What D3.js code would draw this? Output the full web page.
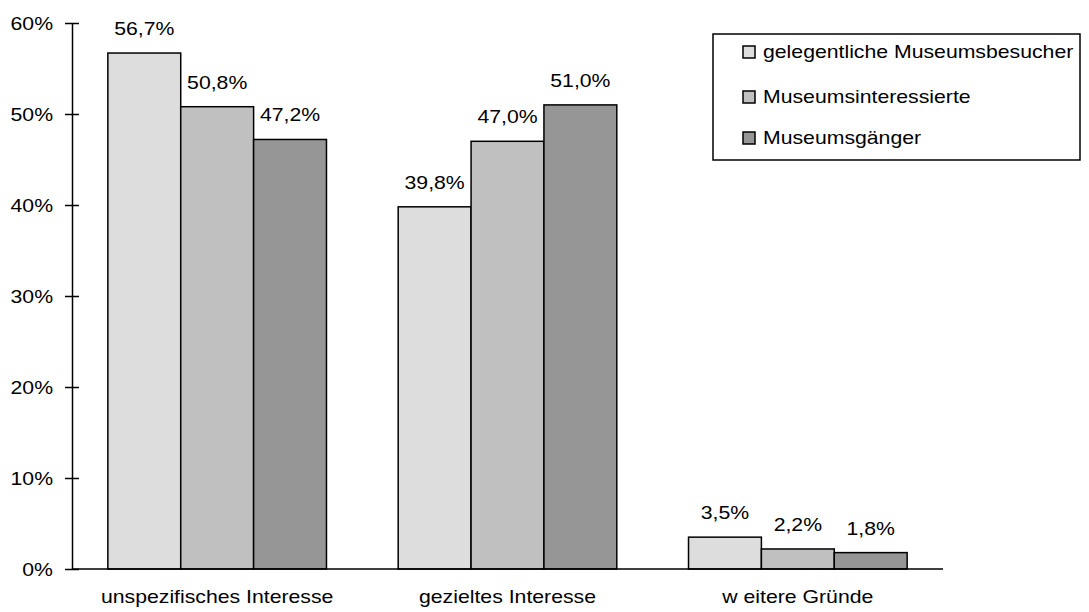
<!DOCTYPE html>
<html>
<head>
<meta charset="utf-8">
<script src="https://cdn.jsdelivr.net/npm/d3@7"></script>
<style>
  body { margin: 0; background: #fff; }
  svg { display: block; font-family: "Liberation Sans", Arial, sans-serif; }
</style>
</head>
<body>
<svg id="chart" width="1089" height="612"></svg>
<script>
const categories = ["unspezifisches Interesse", "gezieltes Interesse", "w eitere Gründe"];
const seriesNames = ["gelegentliche Museumsbesucher", "Museumsinteressierte", "Museumsgänger"];
const gelegentliche = [56.7, 39.8, 3.5];
const interessierte = [50.8, 47.0, 2.2];
const gaenger = [47.2, 51.0, 1.8];
const yTicks = [0, 10, 20, 30, 40, 50, 60];
const colors = ["#dddddd", "#c0c0c0", "#969696"];

const series = [gelegentliche, interessierte, gaenger];

const svg = d3.select("#chart");
const plot = { left: 72, right: 943, top: 23, bottom: 569 };
const fontSize = 18;
const stretch = 1.18; // wide lettering

const x = d3.scaleBand().domain(categories).range([plot.left, plot.right]).padding(0);
const xInner = d3.scaleBand().domain(d3.range(series.length))
  .range([x.bandwidth() * 0.1235, x.bandwidth() * 0.8765]).padding(0);
const y = d3.scaleLinear().domain([0, 60]).range([plot.bottom, plot.top]);

const fmt = v => d3.format(".1f")(v).replace(".", ",") + "%";

// places a text at (px, py) with the widened lettering
function wideText(sel, px, py) {
  return sel.attr("x", 0).attr("y", 0)
    .attr("transform", (d, i) => `translate(${px(d, i)},${py(d, i)}) scale(${stretch},1)`)
    .attr("font-size", fontSize)
    .attr("fill", "#000");
}

// bars
const groups = svg.append("g").selectAll("g")
  .data(categories)
  .join("g")
  .attr("transform", d => `translate(${x(d)},0)`);

groups.selectAll("rect")
  .data((c, ci) => series.map((s, si) => ({ si, v: s[ci] })))
  .join("rect")
  .attr("x", d => xInner(d.si))
  .attr("width", xInner.bandwidth())
  .attr("y", d => y(d.v))
  .attr("height", d => y(0) - y(d.v))
  .attr("fill", d => colors[d.si])
  .attr("stroke", "#000")
  .attr("stroke-width", 1.5);

groups.selectAll("text")
  .data((c, ci) => series.map((s, si) => ({ si, v: s[ci] })))
  .join("text")
  .attr("text-anchor", "middle")
  .call(wideText, d => xInner(d.si) + xInner.bandwidth() / 2, d => y(d.v) - 18)
  .text(d => fmt(d.v));

// baseline
svg.append("line")
  .attr("x1", plot.left).attr("x2", plot.right)
  .attr("y1", y(0)).attr("y2", y(0))
  .attr("stroke", "#000").attr("stroke-width", 1.5);

// y axis
const yAxis = d3.axisLeft(y).tickValues(yTicks).tickFormat(d => d + "%")
  .tickSizeInner(7).tickSizeOuter(0).tickPadding(10);
const ya = svg.append("g").attr("transform", `translate(${plot.left},0)`).call(yAxis);
ya.select(".domain").attr("stroke-width", 1.5);
ya.selectAll(".tick line").attr("x2", 7).attr("x1", -7).attr("stroke-width", 1.5);
ya.selectAll(".tick text")
  .attr("font-family", "Liberation Sans, Arial, sans-serif")
  .attr("dy", "0.35em")
  .call(wideText, () => -19, () => 0);

// category labels
svg.append("g").selectAll("text")
  .data(categories)
  .join("text")
  .attr("text-anchor", "middle")
  .call(wideText, d => x(d) + x.bandwidth() / 2, () => 603)
  .text(d => d);

// legend
const legend = svg.append("g");
legend.append("rect")
  .attr("x", 713).attr("y", 34).attr("width", 367).attr("height", 126)
  .attr("fill", "#fff").attr("stroke", "#000").attr("stroke-width", 1.5);
const rowsY = [52, 97, 138];
const items = legend.selectAll("g.item").data(seriesNames).join("g").attr("class", "item");
items.append("rect")
  .attr("x", 743).attr("y", (d, i) => rowsY[i] - 6)
  .attr("width", 12).attr("height", 12)
  .attr("fill", (d, i) => colors[i]).attr("stroke", "#000").attr("stroke-width", 1.5);
items.append("text")
  .attr("dy", "0.35em")
  .call(wideText, () => 763, (d, i) => rowsY[i])
  .text(d => d);
</script>
</body>
</html>
